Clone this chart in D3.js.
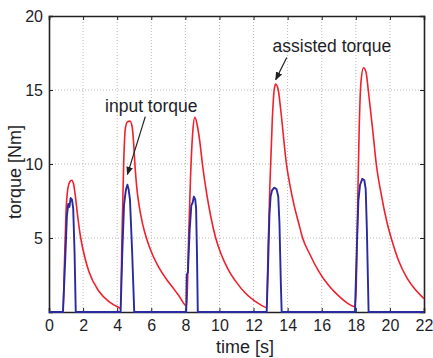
<!DOCTYPE html>
<html>
<head>
<meta charset="utf-8">
<script src="https://cdn.jsdelivr.net/npm/d3@7"></script>
<style>
  body { margin: 0; background: #fff; }
  text { font-family: "Liberation Sans", Arial, Helvetica, sans-serif; fill: #1e1e28; }
</style>
</head>
<body>
<div id="chart-area"></div>
<script>
// data: [time s, torque Nm]
const assistedTorque = [
  [0, 0], [0.82, 0], [0.9, 3], [1.0, 6.8], [1.1, 8.3], [1.22, 8.8], [1.33, 8.9], [1.45, 8.6],
  [1.55, 7.8], [1.7, 6.3], [1.86, 5.0], [2.1, 3.7], [2.35, 2.7], [2.93, 1.4], [3.52, 0.7], [4.1, 0.3], [4.2, 0.25],
  [4.28, 5], [4.38, 10], [4.48, 12.4], [4.6, 12.85], [4.75, 12.9], [4.88, 12.5], [4.96, 11.5],
  [5.04, 10.0], [5.15, 8.4], [5.3, 7.1], [5.5, 5.9], [5.77, 4.8], [6.1, 3.8], [6.45, 3.0], [6.9, 2.2],
  [7.23, 1.7], [7.62, 1.1], [8.08, 0.4],
  [8.18, 4.5], [8.3, 9], [8.43, 12.1], [8.56, 13.15], [8.7, 12.6], [8.85, 11.5], [9.0, 10.0],
  [9.25, 8.0], [9.5, 6.4], [9.78, 5.0], [10.1, 3.9], [10.5, 2.9], [11.0, 2.0], [11.5, 1.3], [12.0, 0.8],
  [12.4, 0.5], [12.77, 0.3],
  [12.85, 4], [12.96, 8.6], [13.1, 13], [13.22, 15.1], [13.3, 15.4], [13.45, 15.0], [13.6, 13.6],
  [13.93, 10.0], [14.13, 8.6], [14.4, 7.1], [14.65, 6.0], [14.88, 5.0], [15.3, 3.9], [15.8, 2.8],
  [16.4, 1.8], [17.07, 1.0], [17.5, 0.6], [17.95, 0.35],
  [18.03, 2], [18.12, 8], [18.2, 12.5], [18.3, 15.5], [18.45, 16.5], [18.6, 16.2], [18.73, 15.0],
  [19.0, 12.2], [19.2, 10.0], [19.5, 7.9], [19.8, 6.2], [20.1, 4.9], [20.5, 3.5], [21.0, 2.3],
  [21.5, 1.5], [22, 0.9]
];

const inputTorque = [
  [0, 0], [0.82, 0], [0.95, 3.5], [1.05, 6.5], [1.13, 7.3], [1.2, 7.1], [1.27, 7.7], [1.35, 7.6],
  [1.42, 7.0], [1.5, 4], [1.57, 0],
  [4.2, 0], [4.3, 4], [4.4, 7.2], [4.46, 7.8], [4.52, 8.3], [4.6, 8.6], [4.67, 8.3], [4.75, 7.6], [4.88, 4], [5.0, 0],
  [8.05, 0], [8.08, 2.5], [8.15, 2.7], [8.25, 5.5], [8.35, 7.2], [8.43, 7.4], [8.5, 7.8], [8.58, 7.6],
  [8.63, 7.0], [8.68, 4], [8.73, 0],
  [12.77, 0], [12.85, 3], [12.93, 6.5], [13.0, 7.8], [13.08, 8.2], [13.2, 8.4], [13.35, 8.3], [13.45, 7.8],
  [13.52, 6], [13.6, 2], [13.65, 0],
  [17.95, 0], [18.05, 4], [18.15, 7.5], [18.25, 8.6], [18.38, 9.0], [18.5, 8.9], [18.58, 8.3], [18.65, 5.5],
  [18.75, 0], [22, 0]
];

const xTicks = [0, 2, 4, 6, 8, 10, 12, 14, 16, 18, 20, 22];
const yTicks = [5, 10, 15, 20];
const xLabelText = "time [s]";
const yLabelText = "torque [Nm]";
const notes = [
  { text: "input torque", at: [6.0, 13.5], from: [5.65, 13.2], to: [4.6, 9.3] },
  { text: "assisted torque", at: [16.6, 17.6], from: [13.95, 17.2], to: [13.3, 15.7] }
];

const W = 433, H = 358;
const MARGIN = { LEFT: 49, RIGHT: 9, TOP: 16, BOTTOM: 46 };
const WIDTH = W - MARGIN.LEFT - MARGIN.RIGHT;
const HEIGHT = H - MARGIN.TOP - MARGIN.BOTTOM;

const svg = d3.select("#chart-area")
  .append("svg")
    .attr("width", W)
    .attr("height", H);

svg.append("defs").append("marker")
  .attr("id", "head")
  .attr("viewBox", "0 0 10 10")
  .attr("refX", 9).attr("refY", 5)
  .attr("markerWidth", 7).attr("markerHeight", 7)
  .attr("orient", "auto")
  .append("path")
    .attr("d", "M0,1 L10,5 L0,9 Z")
    .attr("fill", "#222");

const g = svg.append("g")
  .attr("transform", `translate(${MARGIN.LEFT}, ${MARGIN.TOP})`);

const x = d3.scaleLinear().domain([0, 22]).range([0, WIDTH]);
const y = d3.scaleLinear().domain([0, 20]).range([HEIGHT, 0]);

// dotted grid
g.append("g").selectAll("line")
  .data(xTicks.slice(1, -1))
  .enter().append("line")
    .attr("x1", d => x(d)).attr("x2", d => x(d))
    .attr("y1", 0).attr("y2", HEIGHT)
    .attr("stroke", "#b8b8b8")
    .attr("stroke-dasharray", "1,2");

g.append("g").selectAll("line")
  .data(yTicks.slice(0, -1))
  .enter().append("line")
    .attr("x1", 0).attr("x2", WIDTH)
    .attr("y1", d => y(d)).attr("y2", d => y(d))
    .attr("stroke", "#b8b8b8")
    .attr("stroke-dasharray", "1,2");

// axes with inward ticks, matlab style box
const xAxisCall = d3.axisBottom(x).tickValues(xTicks).tickSize(-4).tickPadding(8);
const yAxisCall = d3.axisLeft(y).tickValues(yTicks).tickSize(-4).tickPadding(6);

const xAxis = g.append("g")
  .attr("transform", `translate(0, ${HEIGHT})`)
  .call(xAxisCall);
const yAxis = g.append("g").call(yAxisCall);
g.append("g").call(d3.axisTop(x).tickValues(xTicks).tickSize(-4).tickFormat(""));
g.append("g")
  .attr("transform", `translate(${WIDTH}, 0)`)
  .call(d3.axisRight(y).tickValues(yTicks).tickSize(-4).tickFormat(""));

g.selectAll(".domain").attr("stroke", "#222").attr("stroke-width", 1.6);
g.selectAll(".tick line").attr("stroke", "#222");
[xAxis, yAxis].forEach(a => a.selectAll("text")
  .attr("font-size", "16px")
  .attr("font-family", null)
  .attr("fill", "#1e1e28"));

// series
const line = d3.line()
  .x(d => x(d[0]))
  .y(d => y(d[1]));

g.append("path")
  .datum(assistedTorque)
  .attr("fill", "none")
  .attr("stroke", "#f0202c")
  .attr("stroke-width", 1.6)
  .attr("d", line.curve(d3.curveMonotoneX));

g.append("path")
  .datum(inputTorque)
  .attr("fill", "none")
  .attr("stroke", "#2a2aa0")
  .attr("stroke-width", 1.9)
  .attr("stroke-linejoin", "round")
  .attr("d", line.curve(d3.curveLinear));

// annotations
notes.forEach(n => {
  g.append("text")
    .attr("x", x(n.at[0]))
    .attr("y", y(n.at[1]))
    .attr("font-size", "17.5px")
    .attr("text-anchor", "middle")
    .text(n.text);
  g.append("line")
    .attr("x1", x(n.from[0])).attr("y1", y(n.from[1]))
    .attr("x2", x(n.to[0])).attr("y2", y(n.to[1]))
    .attr("stroke", "#222")
    .attr("stroke-width", 1.2)
    .attr("marker-end", "url(#head)");
});

// axis labels
g.append("text")
  .attr("x", 196)
  .attr("y", HEIGHT + 41)
  .attr("font-size", "18px")
  .attr("text-anchor", "middle")
  .text(xLabelText);

g.append("text")
  .attr("x", -(HEIGHT / 2) - 8)
  .attr("y", -28)
  .attr("font-size", "18px")
  .attr("text-anchor", "middle")
  .attr("transform", "rotate(-90)")
  .text(yLabelText);
</script>
</body>
</html>
